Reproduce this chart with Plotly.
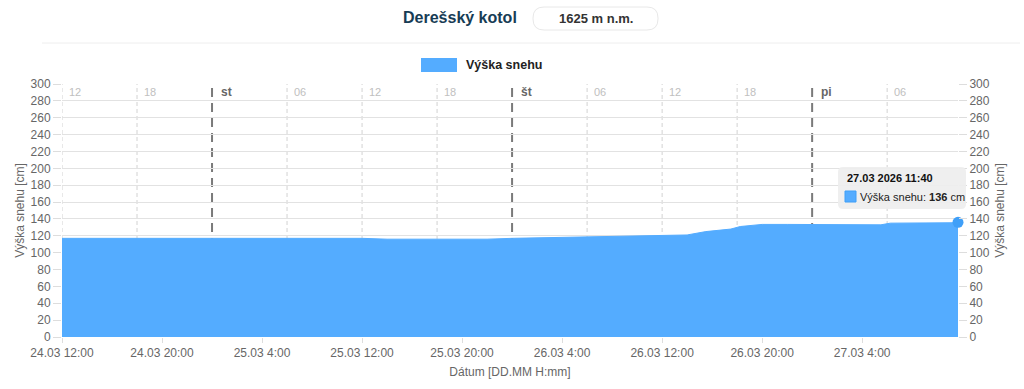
import plotly.graph_objects as go

# ---- data ----
times = ["2026-03-24 12:00", "2026-03-24 18:00", "2026-03-25 00:00", "2026-03-25 06:00",
         "2026-03-25 12:00", "2026-03-25 14:00", "2026-03-25 18:00", "2026-03-25 22:00",
         "2026-03-26 00:00", "2026-03-26 04:00", "2026-03-26 08:00", "2026-03-26 12:00",
         "2026-03-26 14:00", "2026-03-26 15:30", "2026-03-26 17:30", "2026-03-26 18:15",
         "2026-03-26 20:00", "2026-03-26 22:00", "2026-03-27 02:00", "2026-03-27 05:30",
         "2026-03-27 06:15", "2026-03-27 10:00", "2026-03-27 11:30", "2026-03-27 11:40"]
snow = [117, 117, 117, 117,
        117, 116, 116, 116,
        117, 118, 119, 120,
        121, 125, 128, 131,
        133.5, 133.5, 133, 133,
        135, 135, 135.5, 136]

x_tickvals = ["2026-03-24 12:00", "2026-03-24 20:00", "2026-03-25 04:00", "2026-03-25 12:00",
              "2026-03-25 20:00", "2026-03-26 04:00", "2026-03-26 12:00", "2026-03-26 20:00",
              "2026-03-27 04:00"]
x_ticktext = ["24.03 12:00", "24.03 20:00", "25.03 4:00", "25.03 12:00", "25.03 20:00",
              "26.03 4:00", "26.03 12:00", "26.03 20:00", "27.03 4:00"]

hour_marks = ["2026-03-24 12:00", "2026-03-24 18:00", "2026-03-25 06:00", "2026-03-25 12:00",
              "2026-03-25 18:00", "2026-03-26 06:00", "2026-03-26 12:00", "2026-03-26 18:00",
              "2026-03-27 06:00"]
hour_labels = ["12", "18", "06", "12", "18", "06", "12", "18", "06"]
day_marks = ["2026-03-25 00:00", "2026-03-26 00:00", "2026-03-27 00:00"]
day_labels = ["st", "št", "pi"]

x_start, x_end = "2026-03-24 12:00", "2026-03-27 11:40"
series_name = "Výška snehu"
tooltip_time = "27.03 2026 11:40"

# ---- geometry helpers (pixel -> paper) ----
W, H = 1024, 389
L, R, T, B = 62, 958, 84, 337
def px(x):
    return (x - L) / (R - L)
def py(y):
    return (B - y) / (B - T)

BLUE = "#54acff"
GRAY = "#666666"

fig = go.Figure()
fig.add_trace(go.Scatter(x=times, y=snow, mode="lines", fill="tozeroy",
                         line=dict(color=BLUE, width=1), fillcolor=BLUE,
                         name=series_name, showlegend=False, hoverinfo="skip"))
fig.add_trace(go.Scatter(x=[times[-1]], y=[snow[-1]], mode="markers", cliponaxis=False,
                         marker=dict(color="#3f9ff8", size=11), showlegend=False,
                         hoverinfo="skip"))
# invisible trace for right axis
fig.add_trace(go.Scatter(x=[times[0]], y=[snow[0]], yaxis="y2", mode="markers",
                         marker=dict(opacity=0), showlegend=False, hoverinfo="skip"))

shapes = []
annotations = []
for t, lab in zip(hour_marks, hour_labels):
    shapes.append(dict(type="line", xref="x", yref="paper", x0=t, x1=t, y0=0, y1=1,
                       line=dict(color="#d2d2d2", width=1, dash="4px,3px"), layer="below"))
    annotations.append(dict(x=t, y=py(92), xref="x", yref="paper", text=lab,
                            showarrow=False, xanchor="left", yanchor="middle", xshift=5,
                            font=dict(size=11, color="#c0c0c0", family="Arial")))
for t, lab in zip(day_marks, day_labels):
    shapes.append(dict(type="line", xref="x", yref="paper", x0=t, x1=t, y0=0, y1=1,
                       line=dict(color="#7a7a7a", width=2, dash="9px,6px"), layer="below"))
    annotations.append(dict(x=t, y=py(92), xref="x", yref="paper", text="<b>" + lab + "</b>",
                            showarrow=False, xanchor="left", yanchor="middle", xshift=7,
                            font=dict(size=12, color="#666666", family="Arial")))

# header
annotations.append(dict(x=px(460), y=py(18), xref="paper", yref="paper", text="<b>Derešský kotol</b>",
                        showarrow=False, xanchor="center", yanchor="middle",
                        font=dict(size=16, color="#173c55", family="Arial")))
def rrect(x0, y0, x1, y1, r):
    X0, X1 = px(x0), px(x1)
    Y0, Y1 = py(y0), py(y1)
    rx = r / (R - L)
    ry = r / (B - T)
    return (f"M {X0+rx},{Y0} L {X1-rx},{Y0} Q {X1},{Y0} {X1},{Y0-ry} "
            f"L {X1},{Y1+ry} Q {X1},{Y1} {X1-rx},{Y1} L {X0+rx},{Y1} "
            f"Q {X0},{Y1} {X0},{Y1+ry} L {X0},{Y0-ry} Q {X0},{Y0} {X0+rx},{Y0} Z")
shapes.append(dict(type="path", xref="paper", yref="paper", path=rrect(533, 7, 658, 30, 11),
                   line=dict(color="#e8e8e8", width=1), fillcolor="white"))
annotations.append(dict(x=px(595.5), y=py(19), xref="paper", yref="paper", text="<b>1625 m n.m.</b>",
                        showarrow=False, xanchor="center", yanchor="middle",
                        font=dict(size=13, color="#333333", family="Arial")))
shapes.append(dict(type="line", xref="paper", yref="paper", x0=px(42), x1=px(1020),
                   y0=py(43), y1=py(43), line=dict(color="#eeeeee", width=1)))

# legend
shapes.append(dict(type="rect", xref="paper", yref="paper", x0=px(421), x1=px(457),
                   y0=py(58), y1=py(72), fillcolor=BLUE, line=dict(width=0)))
annotations.append(dict(x=px(464), y=py(65), xref="paper", yref="paper", text="<b>" + series_name + "</b>",
                        showarrow=False, xanchor="left", yanchor="middle",
                        font=dict(size=12.5, color="#222222", family="Arial")))

# tooltip
shapes.append(dict(type="path", xref="paper", yref="paper", path=rrect(838, 167, 966, 209, 5),
                   line=dict(color="rgba(0,0,0,0)", width=0), fillcolor="rgba(238,238,238,0.92)"))
annotations.append(dict(x=px(845), y=py(178), xref="paper", yref="paper", text="<b>" + tooltip_time + "</b>",
                        showarrow=False, xanchor="left", yanchor="middle",
                        font=dict(size=11, color="#111111", family="Arial")))
shapes.append(dict(type="rect", xref="paper", yref="paper", x0=px(845), x1=px(856),
                   y0=py(191), y1=py(202), fillcolor=BLUE, line=dict(color="#3f9ff8", width=1)))
annotations.append(dict(x=px(858), y=py(197), xref="paper", yref="paper",
                        text=f"{series_name}: <b>{snow[-1]:g}</b> cm",
                        showarrow=False, xanchor="left", yanchor="middle",
                        font=dict(size=11, color="#222222", family="Arial")))

def yaxis_common(standoff):
    return dict(range=[0, 300], dtick=20, showgrid=True, gridcolor="#e2e2e2", gridwidth=1,
                zeroline=False, ticks="outside", ticklen=8, tickcolor="#dddddd",
                tickfont=dict(size=12, color=GRAY, family="Arial"),
                title=dict(text="Výška snehu [cm]", font=dict(size=12, color=GRAY, family="Arial"),
                           standoff=standoff),
                showline=False, fixedrange=True, automargin=False)

fig.update_layout(
    width=W, height=H,
    margin=dict(l=L, r=W - R, t=T, b=H - B, autoexpand=False),
    paper_bgcolor="white", plot_bgcolor="white",
    showlegend=False,
    shapes=shapes, annotations=annotations,
    xaxis=dict(type="date", range=[x_start, x_end], tickvals=x_tickvals, ticktext=x_ticktext,
               showgrid=False, zeroline=False, ticks="outside", ticklen=5, tickcolor="#dddddd",
               tickfont=dict(size=12, color=GRAY, family="Arial"),
               title=dict(text="Dátum [DD.MM H:mm]", font=dict(size=12, color=GRAY, family="Arial"),
                          standoff=8),
               showline=False, automargin=False, fixedrange=True),
    yaxis=dict(**yaxis_common(3), side="left"),
    yaxis2=dict(**yaxis_common(6), side="right", overlaying="y"),
)

fig.write_html("out.html", config={"displayModeBar": False},
               post_script="document.body.style.margin='0';")
